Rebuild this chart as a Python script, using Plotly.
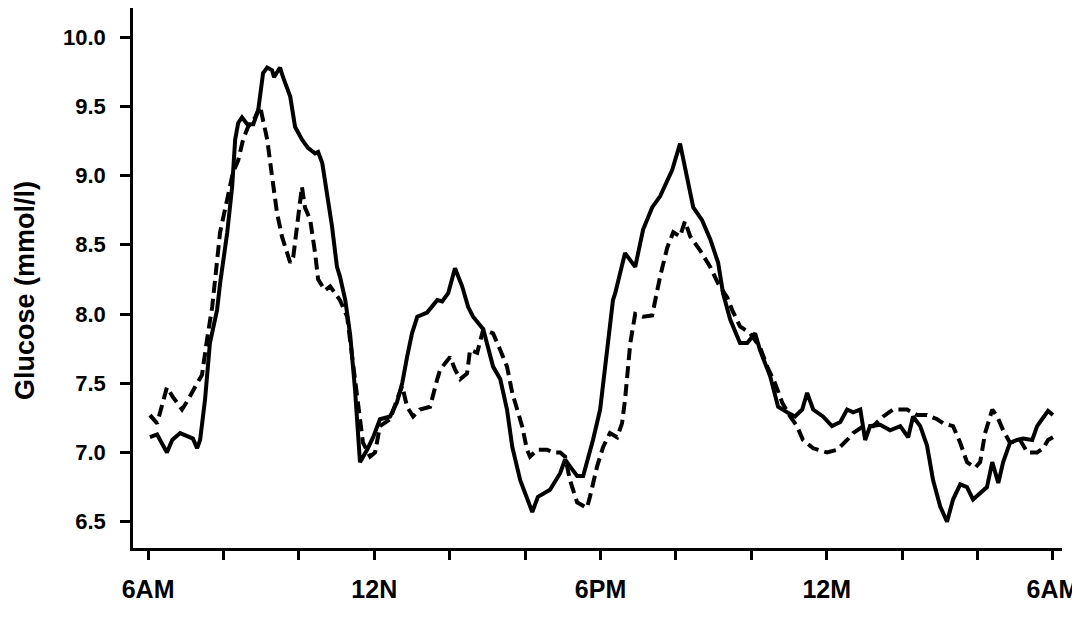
import plotly.graph_objects as go

# hours after 6AM
solid_hours = [0.05,0.24,0.50,0.64,0.85,1.03,1.19,1.30,1.38,1.51,1.64,1.83,1.91,2.10,2.23,2.31,2.39,2.49,2.63,2.79,2.92,3.05,3.16,3.29,3.34,3.50,3.58,3.77,3.90,4.08,4.24,4.43,4.51,4.62,4.75,4.88,5.01,5.09,5.23,5.36,5.49,5.57,5.62,5.81,5.97,6.15,6.42,6.60,6.74,6.87,7.00,7.14,7.40,7.67,7.80,7.96,8.14,8.33,8.49,8.62,8.89,9.15,9.34,9.52,9.66,9.87,10.19,10.34,10.66,10.93,11.06,11.19,11.38,11.54,11.80,11.99,12.18,12.33,12.39,12.52,12.65,12.92,13.13,13.37,13.58,13.90,14.11,14.46,14.69,14.91,15.12,15.25,15.44,15.70,15.89,16.10,16.23,16.50,16.71,16.95,17.16,17.35,17.48,17.64,17.90,18.14,18.36,18.54,18.70,18.89,19.02,19.15,19.42,19.68,19.95,20.16,20.29,20.48,20.66,20.82,21.01,21.19,21.35,21.54,21.72,21.88,22.07,22.25,22.39,22.55,22.68,22.86,23.05,23.21,23.45,23.58,23.71,23.87,24.0]
solid_glucose = [7.11,7.13,7.00,7.09,7.14,7.12,7.10,7.03,7.09,7.38,7.79,8.03,8.22,8.59,8.92,9.26,9.38,9.42,9.37,9.37,9.47,9.74,9.78,9.76,9.71,9.78,9.71,9.57,9.35,9.26,9.20,9.16,9.17,9.09,8.87,8.63,8.34,8.27,8.10,7.85,7.45,7.15,6.93,7.02,7.11,7.24,7.26,7.36,7.50,7.69,7.86,7.98,8.01,8.10,8.09,8.15,8.33,8.20,8.05,7.98,7.89,7.62,7.53,7.31,7.04,6.80,6.57,6.68,6.73,6.85,6.95,6.90,6.83,6.83,7.09,7.31,7.74,8.10,8.15,8.30,8.44,8.34,8.61,8.77,8.85,9.04,9.23,8.77,8.68,8.54,8.37,8.15,7.96,7.79,7.79,7.86,7.74,7.55,7.33,7.29,7.26,7.31,7.43,7.31,7.26,7.19,7.22,7.31,7.29,7.31,7.09,7.19,7.20,7.16,7.19,7.11,7.26,7.19,7.05,6.80,6.61,6.50,6.66,6.77,6.75,6.66,6.71,6.75,6.93,6.78,6.93,7.07,7.09,7.10,7.09,7.19,7.24,7.30,7.27]

dashed_hours = [0.05,0.24,0.50,0.66,0.90,1.06,1.30,1.43,1.56,1.70,1.91,2.10,2.25,2.39,2.52,2.65,2.84,2.97,3.05,3.16,3.29,3.42,3.55,3.69,3.77,3.85,3.95,4.08,4.16,4.30,4.43,4.51,4.69,4.83,4.96,5.09,5.28,5.41,5.57,5.70,5.89,6.02,6.15,6.42,6.60,6.74,6.87,7.03,7.21,7.48,7.67,7.75,8.01,8.14,8.28,8.46,8.54,8.73,8.89,9.15,9.34,9.52,9.66,9.79,9.92,10.05,10.13,10.32,10.58,10.74,10.93,11.06,11.19,11.38,11.64,11.72,11.91,12.07,12.25,12.44,12.57,12.65,12.79,12.92,13.13,13.37,13.58,13.77,13.93,14.11,14.24,14.38,14.64,14.91,15.12,15.36,15.49,15.70,15.97,16.23,16.42,16.63,16.82,17.03,17.21,17.37,17.64,18.01,18.28,18.54,18.70,18.97,19.23,19.50,19.76,20.13,20.40,20.66,20.93,21.09,21.35,21.54,21.72,21.94,22.07,22.20,22.39,22.52,22.68,22.86,23.13,23.32,23.58,23.74,23.87,24.0]
dashed_glucose = [7.27,7.21,7.47,7.40,7.31,7.38,7.50,7.56,7.81,8.05,8.59,8.85,9.02,9.11,9.26,9.35,9.42,9.50,9.40,9.26,8.99,8.73,8.56,8.44,8.37,8.41,8.63,8.92,8.77,8.68,8.44,8.25,8.17,8.20,8.15,8.10,7.98,7.70,7.35,7.07,6.97,7.00,7.19,7.24,7.38,7.48,7.33,7.26,7.31,7.33,7.53,7.60,7.69,7.60,7.53,7.57,7.74,7.72,7.89,7.86,7.74,7.62,7.43,7.31,7.19,7.02,6.97,7.02,7.02,7.00,7.00,6.97,6.80,6.64,6.60,6.68,6.90,7.04,7.14,7.11,7.21,7.38,7.79,8.00,7.98,7.99,8.27,8.48,8.59,8.56,8.67,8.56,8.46,8.34,8.22,8.12,8.03,7.91,7.86,7.76,7.62,7.50,7.36,7.26,7.19,7.09,7.03,7.00,7.02,7.09,7.14,7.19,7.19,7.26,7.31,7.31,7.27,7.27,7.24,7.21,7.19,7.07,6.93,6.89,6.93,7.14,7.31,7.26,7.16,7.07,7.09,7.00,7.00,7.03,7.09,7.11]

x_tick_vals = [0, 2, 4, 6, 8, 10, 12, 14, 16, 18, 20, 22, 24]
x_tick_text = ["6AM", "", "", "12N", "", "", "6PM", "", "", "12M", "", "", "6AM"]
y_tick_vals = [6.5, 7.0, 7.5, 8.0, 8.5, 9.0, 9.5, 10.0]
y_tick_text = ["6.5", "7.0", "7.5", "8.0", "8.5", "9.0", "9.5", "10.0"]
y_title = "Glucose (mmol/l)"

FONT = "Liberation Sans, Arial, sans-serif"

# the page body adds an 8px offset; margins compensate for it
L, T, PW, PH = 125, 0, 929, 540

fig = go.Figure()
fig.add_trace(go.Scatter(x=dashed_hours, y=dashed_glucose, mode="lines",
                         line=dict(color="black", width=4, dash="12px,6px"),
                         showlegend=False))
fig.add_trace(go.Scatter(x=solid_hours, y=solid_glucose, mode="lines",
                         line=dict(color="black", width=4),
                         showlegend=False))

fig.update_layout(
    width=1080, height=628,
    margin=dict(l=L, r=1080 - L - PW, t=T, b=628 - T - PH, autoexpand=False),
    paper_bgcolor="white", plot_bgcolor="white",
    font=dict(family=FONT, color="black"),
    xaxis=dict(range=[-0.40, 24.24], showgrid=False, zeroline=False, automargin=False,
               showline=True, linecolor="black", linewidth=2.5,
               ticks="outside", ticklen=9, tickwidth=2.5, tickcolor="black",
               tickvals=x_tick_vals, ticktext=x_tick_text,
               tickfont=dict(family=FONT, size=25, weight="bold", color="black"),
               ticklabelstandoff=8, ticklabeloverflow="allow"),
    yaxis=dict(range=[6.31, 10.21], showgrid=False, zeroline=False, automargin=False,
               showline=True, linecolor="black", linewidth=2.5,
               ticks="outside", ticklen=10, tickwidth=2.5, tickcolor="black",
               tickvals=y_tick_vals, ticktext=y_tick_text,
               tickfont=dict(family=FONT, size=22, weight="bold", color="black"),
               ticklabelstandoff=10, ticklabeloverflow="allow"),
    annotations=[dict(text=y_title, xref="paper", yref="paper",
                      x=(17 - L) / PW, y=(PH - 283) / PH,
                      xanchor="center", yanchor="middle", textangle=-90,
                      showarrow=False,
                      font=dict(family=FONT, size=27, weight="bold", color="black"))],
)

fig.write_html("out.html")
